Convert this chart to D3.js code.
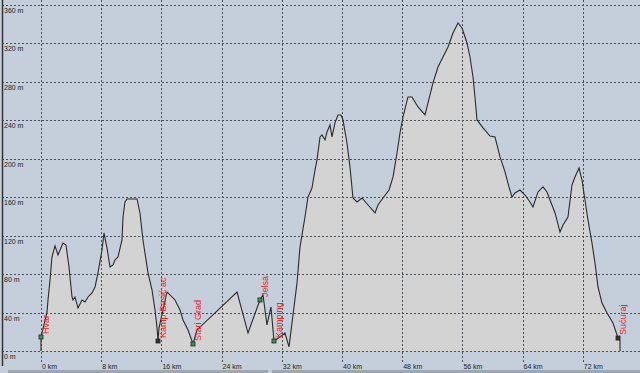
<!DOCTYPE html>
<html>
<head>
<meta charset="utf-8">
<script src="https://cdn.jsdelivr.net/npm/d3@7"></script>
<style>
  html, body { margin: 0; padding: 0; background: #c4cfdb; }
  svg { display: block; }
  .grid line { stroke: #4a4f55; stroke-dasharray: 2,2; shape-rendering: crispEdges; }
  .grid path { display: none; }
  .tick text { font-family: "Liberation Sans", Arial, sans-serif; font-size: 7px; fill: #222; }
  .wpt { font-family: "Liberation Sans", Arial, sans-serif; font-size: 9px; fill: #ee2222; }
</style>
</head>
<body>
<div id="chart"></div>
<script>
const width = 640;
const height = 373;

// distance (km) and elevation (m)
const distKm = [0.00, 0.40, 0.80, 0.93, 1.20, 1.46, 1.86, 2.26, 2.92, 3.32, 3.72, 4.12, 4.25, 4.52, 4.92, 5.45, 5.85, 6.25, 6.78, 7.18,
  7.57, 8.11, 8.37, 8.77, 9.17, 9.57, 9.83, 10.23, 10.76, 10.90, 11.16, 11.43, 12.76, 13.15, 13.55, 14.22, 14.75, 15.15, 15.42, 15.55,
  15.68, 16.74, 17.14, 17.81, 18.47, 18.87, 19.54, 20.20, 20.73, 26.05, 27.51, 29.10, 29.50, 30.03, 30.56, 30.96, 31.76, 32.42, 32.96, 33.49,
  34.02, 34.42, 35.08, 35.48, 36.01, 36.41, 36.68, 37.08, 37.34, 37.74, 38.01, 38.40, 38.67, 39.07, 39.47, 39.87, 40.13, 40.66, 41.06, 41.46,
  41.99, 42.66, 43.46, 44.39, 44.78, 45.45, 46.25, 46.78, 47.31, 47.71, 48.11, 48.77, 49.30, 50.10, 51.03, 51.43, 52.09, 52.76, 53.42, 54.09,
  54.75, 55.42, 55.95, 56.61, 57.01, 57.41, 57.67, 57.94, 58.74, 59.67, 60.33, 61.00, 61.66, 62.19, 62.59, 62.99, 63.65, 64.32, 64.98, 65.38,
  66.05, 66.71, 67.24, 67.64, 68.31, 68.97, 69.37, 70.03, 70.56, 70.96, 71.50, 71.89, 72.29, 72.69, 73.22, 73.62, 74.02, 74.55, 75.22, 76.01,
  76.68, 76.94];
const elevM = [14.6, 27.1, 40.6, 53.1, 73.9, 97.8, 109.3, 99.9, 112.4, 110.3, 87.4, 56.2, 53.1, 56.2, 44.7, 53.1, 51.0, 56.2, 60.4, 66.6,
  81.2, 105.1, 122.8, 107.2, 87.4, 89.5, 94.7, 97.8, 115.5, 139.4, 155.0, 158.2, 158.2, 143.6, 115.5, 81.2, 63.5, 42.7, 23.9, 10.4,
  23.9, 61.4, 58.3, 53.1, 42.7, 32.3, 21.9, 7.3, 21.9, 61.4, 18.7, 53.1, 58.3, 27.1, 45.8, 10.4, 14.6, 18.7, 4.2, 37.5,
  70.8, 108.2, 139.4, 160.2, 169.6, 188.3, 198.8, 222.7, 224.8, 219.6, 227.9, 235.2, 222.7, 237.3, 245.6, 245.6, 240.4, 216.4, 191.5, 159.2,
  155.0, 159.2, 151.9, 143.6, 151.9, 159.2, 167.5, 181.1, 206.0, 226.9, 243.5, 264.3, 264.3, 253.9, 245.6, 258.1, 278.9, 295.5, 305.9, 316.3,
  330.9, 341.3, 336.1, 320.5, 305.9, 285.1, 264.3, 240.4, 232.1, 223.7, 222.7, 201.9, 186.3, 170.7, 160.2, 164.4, 167.5, 162.3, 155.0, 149.8,
  165.5, 170.7, 165.5, 157.1, 143.6, 123.8, 131.1, 139.4, 172.7, 181.1, 190.4, 177.9, 157.1, 136.3, 112.4, 91.6, 66.6, 49.9, 39.5, 29.1,
  13.5, 10.4];

// waypoints
const wptNames = ["Hvar", "Kamp-Basić ac", "Stari Grad", "Jelsa", "Kamping", "Sućuraj"];
const wptKm = [0.00, 15.55, 20.20, 29.10, 30.96, 76.68];
const wptEle = [14.6, 10.4, 7.3, 53.1, 10.4, 13.5];
const wptKind = ["g", "d", "g", "g", "g", "d"];

const kmTicks = [0, 8, 16, 24, 32, 40, 48, 56, 64, 72];
const mTicks = [0, 40, 80, 120, 160, 200, 240, 280, 320, 360];

const x = d3.scaleLinear().domain([0, 80]).range([41, 643]);
const y = d3.scaleLinear().domain([0, 360]).range([351, 5]);

const svg = d3.select("#chart")
    .append("svg")
    .attr("width", width)
    .attr("height", height);

svg.append("rect")
    .attr("width", width)
    .attr("height", height)
    .attr("fill", "#c4cfdb");

const profile = distKm.map((d, i) => ({ km: d, ele: elevM[i] }));
const outline = [{ km: distKm[0], ele: 0 }, ...profile, { km: distKm[distKm.length - 1], ele: 0 }];

// filled profile
const area = d3.area()
    .x(d => x(d.km))
    .y0(y(0))
    .y1(d => y(d.ele));

svg.append("path")
    .datum(profile)
    .attr("d", area)
    .attr("fill", "#d3d3d3");

// grid
svg.append("g")
    .attr("class", "grid")
    .attr("transform", `translate(0,0)`)
    .call(d3.axisBottom(x).tickValues(kmTicks).tickSize(364).tickFormat(""));

svg.append("g")
    .attr("class", "grid")
    .attr("transform", `translate(2,0)`)
    .call(d3.axisRight(y).tickValues(mTicks).tickSize(width).tickFormat(""));

// profile line
const line = d3.line()
    .x(d => x(d.km))
    .y(d => y(d.ele));

svg.append("path")
    .datum(outline)
    .attr("d", line)
    .attr("fill", "none")
    .attr("stroke", "#2a2a2a")
    .attr("stroke-width", 1.1);

// tick labels
svg.append("g")
    .selectAll("text")
    .data(mTicks)
    .join("text")
    .attr("class", "tick")
    .attr("x", 4)
    .attr("y", d => y(d) + 8)
    .style("font-family", "'Liberation Sans', Arial, sans-serif")
    .style("font-size", "7px")
    .attr("fill", "#222")
    .text(d => `${d} m`);

svg.append("g")
    .selectAll("text")
    .data(kmTicks)
    .join("text")
    .attr("x", d => x(d) + 1)
    .attr("y", 369)
    .style("font-family", "'Liberation Sans', Arial, sans-serif")
    .style("font-size", "7px")
    .attr("fill", "#222")
    .text(d => `${d} km`);

// left axis line
svg.append("line")
    .attr("x1", 2.5).attr("x2", 2.5)
    .attr("y1", 0).attr("y2", 366)
    .attr("stroke", "#333")
    .attr("stroke-width", 1.5);

// bottom scroll bar
svg.append("rect")
    .attr("x", 8).attr("y", 370)
    .attr("width", 632).attr("height", 3)
    .attr("fill", "#9ea7b1");
svg.append("rect")
    .attr("x", 268).attr("y", 370)
    .attr("width", 4).attr("height", 3)
    .attr("fill", "#c4cfdb");

// waypoints
const wpts = wptNames.map((n, i) => ({ name: n, km: wptKm[i], ele: wptEle[i], kind: wptKind[i] }));

svg.append("g")
    .selectAll("rect")
    .data(wpts)
    .join("rect")
    .attr("x", d => x(d.km) - 2)
    .attr("y", d => y(d.ele) - 2)
    .attr("width", 4)
    .attr("height", 4)
    .attr("fill", d => d.kind === "g" ? "#2fa050" : "#333")
    .attr("stroke", "#222")
    .attr("stroke-width", 0.8);

svg.append("g")
    .selectAll("text")
    .data(wpts)
    .join("text")
    .attr("class", "wpt")
    .attr("transform", d => `translate(${x(d.km) + 8},${y(d.ele) - 3}) rotate(-90)`)
    .text(d => d.name);
</script>
</body>
</html>
